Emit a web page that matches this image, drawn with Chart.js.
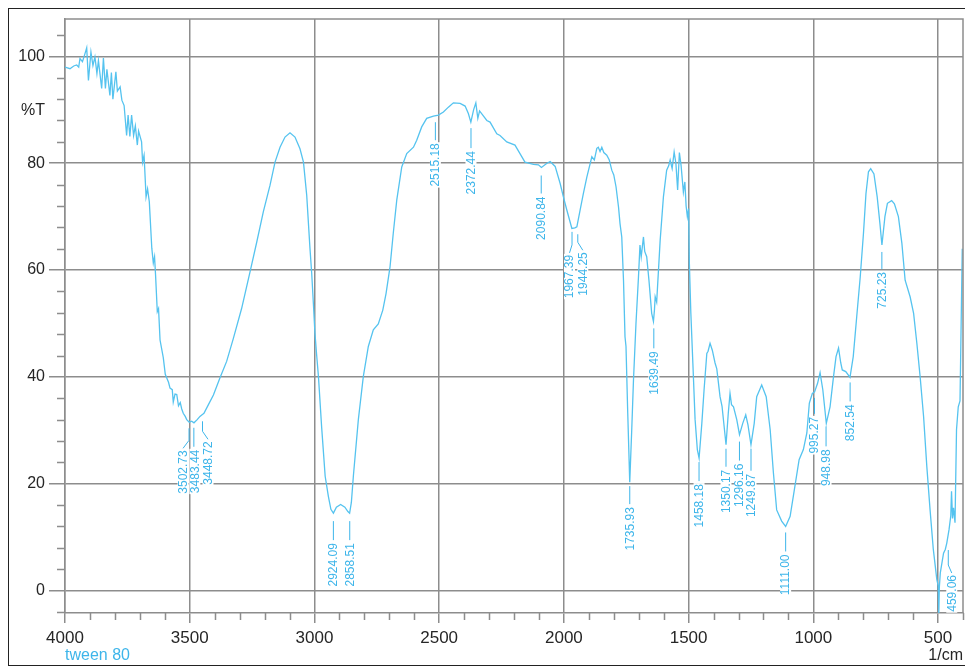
<!DOCTYPE html>
<html>
<head>
<meta charset="utf-8">
<title>tween 80 - FTIR</title>
<script src="https://cdn.jsdelivr.net/npm/chart.js@4.4.1/dist/chart.umd.min.js"></script>
<style>
  html, body { margin: 0; padding: 0; background: #fff; }
  #wrap { position: relative; width: 965px; height: 669px; }
</style>
</head>
<body>
<div id="wrap"><canvas id="espectro" width="965" height="669"></canvas></div>
<script>
// --- DADOS DO ESPECTRO ---
const numeroOnda = [
  4000, 3980, 3965, 3953, 3945, 3940, 3930, 3922, 3913, 3906, 3896, 3888, 3880, 3872, 3866,
  3853, 3846, 3838, 3832, 3820, 3814, 3808, 3796, 3790, 3779, 3772, 3763, 3753, 3747, 3740,
  3733, 3725, 3718, 3710, 3705, 3693, 3689, 3683, 3675, 3669, 3662, 3652, 3646, 3641, 3637,
  3630, 3625, 3619, 3606, 3598, 3592, 3585, 3579, 3570, 3566, 3559, 3552, 3545, 3538, 3532,
  3526, 3518, 3512, 3502, 3492, 3483, 3470, 3459, 3448, 3443, 3425, 3405, 3379, 3352, 3325,
  3292, 3258, 3231, 3205, 3178, 3158, 3138, 3118, 3098, 3078, 3058, 3044, 3031, 3018, 3011,
  3004, 2998, 2991, 2984, 2971, 2957, 2944, 2934, 2924, 2912, 2895, 2878, 2866, 2859, 2852,
  2844, 2824, 2804, 2784, 2764, 2744, 2726, 2713, 2697, 2684, 2670, 2650, 2630, 2603, 2590,
  2570, 2550, 2523, 2503, 2483, 2463, 2443, 2416, 2396, 2383, 2373, 2362, 2353, 2345, 2338,
  2309, 2296, 2269, 2256, 2229, 2196, 2176, 2156, 2122, 2102, 2090, 2068, 2055, 2035, 2015,
  2002, 1988, 1968, 1956, 1948, 1935, 1922, 1908, 1888, 1878, 1868, 1862, 1855, 1848, 1840,
  1828, 1818, 1808, 1800, 1791, 1781, 1775, 1768, 1761, 1755, 1751, 1744, 1736, 1728, 1721,
  1711, 1701, 1695, 1690, 1681, 1676, 1668, 1659, 1648, 1641, 1637, 1634, 1628, 1614, 1601,
  1588, 1580, 1574, 1566, 1558, 1551, 1544, 1537, 1530, 1521, 1515, 1510, 1505, 1500, 1497,
  1491, 1483, 1474, 1465, 1458, 1447, 1438, 1427, 1422, 1414, 1405, 1394, 1387, 1374, 1366,
  1350, 1341, 1334, 1328, 1320, 1307, 1296, 1283, 1271, 1262, 1250, 1237, 1227, 1207, 1189,
  1173, 1160, 1147, 1127, 1111, 1093, 1076, 1057, 1040, 1026, 1016, 1004, 995, 983, 973,
  962, 948, 933, 919, 909, 899, 890, 884, 870, 853, 840, 826, 812, 799, 789,
  779, 770, 757, 744, 733, 725, 713, 703, 686, 675, 659, 645, 632, 612, 598,
  585, 572, 558, 545, 532, 519, 505, 499, 497, 495, 491, 478, 471, 465, 456,
  449, 446, 442, 438, 432, 426, 419, 412, 403
];
const transmitancia = [
  98.0, 97.7, 98.2, 98.4, 98.0, 99.6, 99.0, 100.2, 101.6, 95.5, 100.8, 98.3, 99.9, 96.8, 99.2,
  94.0, 99.7, 94.0, 97.6, 92.7, 97.0, 92.0, 97.1, 93.5, 94.3, 91.8, 90.8, 85.2, 89.0, 85.0,
  89.0, 85.2, 87.0, 83.4, 86.0, 84.0, 80.2, 81.5, 73.7, 75.2, 72.8, 64.1, 61.3, 62.5, 59.1,
  52.2, 52.8, 46.9, 43.6, 40.5, 39.8, 39.0, 37.9, 37.6, 35.3, 36.8, 36.7, 34.6, 35.2, 34.0,
  33.2, 32.6, 32.0, 31.5, 31.7, 31.4, 32.0, 32.6, 33.0, 33.2, 34.8, 36.6, 39.8, 42.9, 47.2,
  52.8, 59.7, 65.3, 70.9, 75.9, 80.2, 83.0, 84.9, 85.7, 84.9, 82.7, 80.2, 74.0, 64.1, 59.4,
  53.5, 48.2, 44.0, 40.1, 30.5, 21.4, 17.6, 15.2, 14.5, 15.6, 16.1, 15.6, 14.8, 14.5, 16.5,
  21.4, 32.0, 40.1, 45.7, 48.8, 49.9, 52.5, 55.6, 60.6, 66.9, 73.1, 79.3, 81.8, 83.0, 84.3,
  86.8, 88.4, 88.8, 89.0, 89.6, 90.5, 91.3, 91.2, 90.7, 89.3, 87.7, 90.0, 91.3, 88.4, 89.8,
  88.0, 87.7, 85.5, 85.2, 84.0, 83.4, 81.8, 80.2, 79.8, 79.7, 79.2, 80.0, 80.3, 79.4, 76.2,
  73.7, 71.2, 67.8, 67.9, 68.1, 71.2, 74.3, 77.4, 81.2, 80.6, 82.8, 83.0, 82.2, 83.0, 82.0,
  81.5, 80.6, 78.7, 77.8, 75.6, 71.8, 68.7, 66.2, 58.1, 47.5, 45.7, 33.2, 20.3, 30.1, 39.4,
  50.0, 58.7, 64.7, 62.5, 66.2, 63.5, 62.5, 58.1, 51.9, 50.4, 52.5, 55.0, 54.0, 65.6, 73.7,
  78.7, 79.5, 80.6, 79.0, 82.1, 80.0, 75.0, 82.0, 79.5, 74.6, 76.5, 72.0, 70.0, 71.5, 61.3,
  51.9, 42.6, 32.0, 26.4, 24.8, 31.3, 37.6, 44.4, 44.8, 46.3, 45.0, 42.6, 41.5, 36.3, 34.5,
  27.3, 33.2, 36.9, 34.8, 34.4, 32.0, 29.2, 31.3, 32.9, 31.0, 27.3, 31.3, 36.3, 38.5, 36.3,
  30.1, 22.0, 15.1, 13.0, 12.0, 13.9, 18.9, 24.5, 26.4, 29.5, 35.1, 36.9, 37.2, 38.8, 40.8,
  37.6, 31.3, 34.4, 40.1, 43.8, 45.4, 42.6, 41.3, 41.0, 39.9, 43.8, 51.3, 58.7, 66.9, 74.3,
  78.4, 79.0, 78.0, 73.7, 68.7, 64.7, 70.0, 72.5, 73.0, 72.4, 70.0, 65.0, 58.1, 55.0, 51.9,
  46.3, 40.1, 32.6, 23.2, 15.1, 7.7, 2.1, 0.8, -4.2, 0.5, 3.3, 7.0, 7.7, 8.9, 11.4,
  14.0, 18.6, 13.5, 15.5, 12.7, 30.1, 34.4, 35.5, 64.0
];

// Picos marcados
const picosOnda = [3502.73, 3483.44, 3448.72, 2924.09, 2858.51, 2515.18, 2372.44, 2090.84,
  1967.39, 1944.25, 1735.93, 1639.49, 1458.18, 1350.17, 1296.16, 1249.87, 1111.00,
  995.27, 948.98, 852.54, 725.23, 459.06];
const picosT = [31.5, 31.6, 33.0, 14.5, 14.5, 88.8, 87.7, 79.2, 67.9, 68.2, 20.3, 50.4,
  24.8, 27.3, 29.2, 27.3, 12.0, 37.2, 31.3, 39.9, 64.7, 8.9];

// Eixos
const ticksX = [4000, 3500, 3000, 2500, 2000, 1500, 1000, 500];
const ticksY = [0, 20, 40, 60, 80, 100];
const nomeAmostra = 'tween 80';
const unidadeX = '1/cm';
const unidadeY = '%T';

// --- ESTILO ---
const AZUL = '#55c3ef';
const AZUL_TEXTO = '#3db5ea';
const CINZA = '#8d8d8d';
const PRETO = '#262626';

// posição das etiquetas em px: [afastamento, comprimento do traço, desvio lateral]
const layoutPicos = [
  [6, 12, -6], [6, 19, 1], [7, 10, 5.5], [8, 19, 0], [8, 19, 0], [6, 18, 0], [6, 20, 0],
  [8, 18, 0], [4, 13, -2.5], [8, 8, 5], [4, 18, 0], [7, 20, 0], [4, 19, 0], [4, 18, 0],
  [7, 19, 0], [4, 22, 0], [6, 19, 0], [6, 16, 0], [3, 20, 0], [5, 19, 0], [7, 17, 0],
  [7, 15, 3.5]
];

const pontos = numeroOnda.map((w, i) => ({ x: w, y: transmitancia[i] }));

// Plugin com tracinhos menores, moldura e etiquetas
const extras = {
  id: 'extras',
  afterDraw(chart) {
    const ctx = chart.ctx;
    const area = chart.chartArea;
    const sx = chart.scales.x;
    const sy = chart.scales.y;
    ctx.save();

    // moldura do gráfico (topo e direita)
    ctx.strokeStyle = CINZA;
    ctx.lineWidth = 1.5;
    ctx.beginPath();
    ctx.moveTo(area.left, area.top);
    ctx.lineTo(area.right, area.top);
    ctx.lineTo(area.right, area.bottom);
    ctx.stroke();

    // tracinhos menores
    ctx.beginPath();
    for (let w = 400; w <= 4000; w += 100) {
      if (w % 500 === 0) continue;
      const px = Math.round(sx.getPixelForValue(w)) + 0.5;
      ctx.moveTo(px, area.bottom);
      ctx.lineTo(px, area.bottom + 7);
    }
    for (let v = -4; v <= 104; v += 4) {
      if (v % 20 === 0) continue;
      const py = Math.round(sy.getPixelForValue(v)) + 0.5;
      ctx.moveTo(area.left - 8, py);
      ctx.lineTo(area.left, py);
    }
    ctx.stroke();

    // moldura externa
    ctx.strokeStyle = '#222';
    ctx.lineWidth = 1;
    ctx.strokeRect(8.5, 8.5, 970, 657);

    // textos dos eixos
    ctx.font = '16px Arial';
    ctx.fillStyle = PRETO;
    ctx.textAlign = 'right';
    ctx.textBaseline = 'middle';
    ctx.fillText(unidadeY, area.left - 20, sy.getPixelForValue(90) + 1);
    ctx.fillText(unidadeX, area.right, area.bottom + 43);
    ctx.fillStyle = AZUL_TEXTO;
    ctx.textAlign = 'left';
    ctx.fillText(nomeAmostra, area.left, area.bottom + 43);

    // etiquetas dos picos
    ctx.font = '12px Arial';
    ctx.textBaseline = 'middle';
    picosOnda.forEach((w, i) => {
      const [gap, len, dx] = layoutPicos[i];
      const px = sx.getPixelForValue(w);
      const py = sy.getPixelForValue(picosT[i]);
      const y0 = py + gap;
      const y1 = y0 + len;
      ctx.strokeStyle = AZUL_TEXTO;
      ctx.lineWidth = 1;
      ctx.beginPath();
      ctx.moveTo(px, y0);
      ctx.lineTo(px, y1);
      let tx = px;
      let ty = y1 + 2;
      if (dx !== 0 && Math.abs(dx) > 2) {
        ctx.lineTo(px + dx, y1 + 8);
        tx = px + dx;
        ty = y1 + 9;
      } else {
        tx = px + dx;
      }
      ctx.stroke();
      const txt = w.toFixed(2);
      const larg = ctx.measureText(txt).width;
      ctx.fillStyle = '#fff';
      ctx.fillRect(tx - 5.5, ty, 11, larg + 2);
      ctx.save();
      ctx.translate(tx, ty);
      ctx.rotate(-Math.PI / 2);
      ctx.fillStyle = AZUL_TEXTO;
      ctx.textAlign = 'right';
      ctx.fillText(txt, -1, 0.5);
      ctx.restore();
    });

    ctx.restore();
  }
};

// --- GRÁFICO ---
const ctx = document.getElementById('espectro').getContext('2d');
const grafico = new Chart(ctx, {
  type: 'line',
  data: {
    datasets: [{
      label: nomeAmostra,
      data: pontos,
      borderColor: AZUL,
      borderWidth: 1.3,
      pointRadius: 0,
      tension: 0,
      fill: false
    }]
  },
  options: {
    responsive: false,
    animation: false,
    devicePixelRatio: 1,
    layout: { padding: { top: 19, right: 2, left: 0, bottom: 0 } },
    plugins: {
      legend: { display: false },
      tooltip: { enabled: false }
    },
    scales: {
      x: {
        type: 'linear',
        reverse: true,
        min: 400,
        max: 4000,
        afterFit: (s) => { s.height = 56; },
        afterBuildTicks: (s) => { s.ticks = ticksX.map(v => ({ value: v })); },
        ticks: {
          autoSkip: false,
          maxRotation: 0,
          padding: 5,
          color: PRETO,
          font: { family: 'Arial', size: 17 },
          callback: (v) => String(v)
        },
        grid: { color: CINZA, lineWidth: 1.5, tickLength: 10, tickColor: CINZA },
        border: { color: CINZA, width: 1.5 }
      },
      y: {
        min: -4.2,
        max: 107,
        afterFit: (s) => { s.width = 65; },
        afterBuildTicks: (s) => { s.ticks = ticksY.map(v => ({ value: v })); },
        ticks: {
          padding: 4,
          color: PRETO,
          font: { family: 'Arial', size: 16 },
          callback: (v) => String(v)
        },
        grid: { color: CINZA, lineWidth: 1.5, tickLength: 16, tickColor: CINZA },
        border: { color: CINZA, width: 1.5 }
      }
    }
  },
  plugins: [extras]
});
</script>
</body>
</html>
